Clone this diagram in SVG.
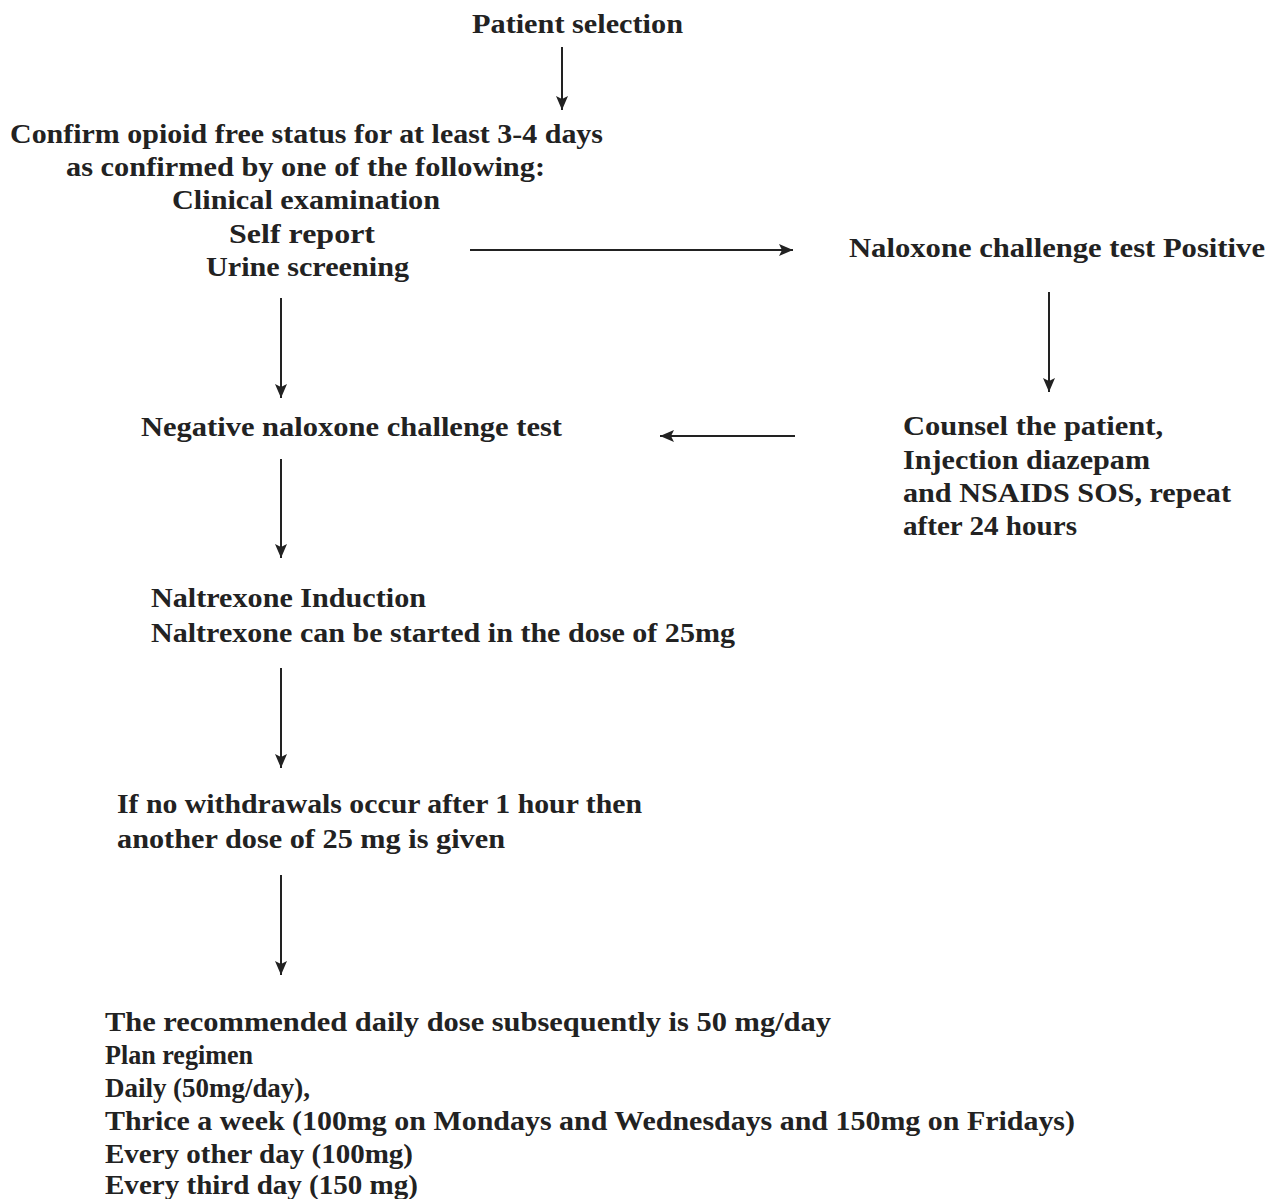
<svg xmlns="http://www.w3.org/2000/svg" width="1278" height="1199" viewBox="0 0 1278 1199">
<style>
text{font-family:"Liberation Serif","Times New Roman",serif;font-size:27px;font-weight:bold;fill:#222;}
.c line{stroke:#222;stroke-width:2;fill:none;}
</style>
<defs>
<marker id="ah" viewBox="0 0 14 12" refX="14" refY="6" markerWidth="14" markerHeight="12" markerUnits="userSpaceOnUse" orient="auto">
<path d="M0,0 L14,6 L0,12 L3,6 Z" fill="#222"/>
</marker>
</defs>
<rect width="1278" height="1199" fill="#fff"/>
<g id="n-patient-selection">
<text x="472" y="33" textLength="211" lengthAdjust="spacingAndGlyphs">Patient selection</text>
</g>
<g id="n-confirm">
<text x="10" y="143" textLength="593" lengthAdjust="spacingAndGlyphs">Confirm opioid free status for at least 3-4 days</text>
<text x="66" y="176" textLength="479" lengthAdjust="spacingAndGlyphs">as confirmed by one of the following:</text>
<text x="172" y="209" textLength="268" lengthAdjust="spacingAndGlyphs">Clinical examination</text>
<text x="229" y="243" textLength="146" lengthAdjust="spacingAndGlyphs">Self report</text>
<text x="206" y="276" textLength="203" lengthAdjust="spacingAndGlyphs">Urine screening</text>
</g>
<g id="n-positive">
<text x="849" y="257" textLength="416" lengthAdjust="spacingAndGlyphs">Naloxone challenge test Positive</text>
</g>
<g id="n-negative">
<text x="141" y="436" textLength="421" lengthAdjust="spacingAndGlyphs">Negative naloxone challenge test</text>
</g>
<g id="n-counsel">
<text x="903" y="435" textLength="260" lengthAdjust="spacingAndGlyphs">Counsel the patient,</text>
<text x="903" y="469" textLength="247" lengthAdjust="spacingAndGlyphs">Injection diazepam</text>
<text x="903" y="502" textLength="328" lengthAdjust="spacingAndGlyphs">and NSAIDS SOS, repeat</text>
<text x="903" y="535" textLength="174" lengthAdjust="spacingAndGlyphs">after 24 hours</text>
</g>
<g id="n-induction">
<text x="151" y="607" textLength="275" lengthAdjust="spacingAndGlyphs">Naltrexone Induction</text>
<text x="151" y="642" textLength="584" lengthAdjust="spacingAndGlyphs">Naltrexone can be started in the dose of 25mg</text>
</g>
<g id="n-withdrawal">
<text x="117" y="813" textLength="525" lengthAdjust="spacingAndGlyphs">If no withdrawals occur after 1 hour then</text>
<text x="117" y="848" textLength="388" lengthAdjust="spacingAndGlyphs">another dose of 25 mg is given</text>
</g>
<g id="n-regimen">
<text x="105" y="1031" textLength="726" lengthAdjust="spacingAndGlyphs">The recommended daily dose subsequently is 50 mg/day</text>
<text x="105" y="1064" textLength="148" lengthAdjust="spacingAndGlyphs">Plan regimen</text>
<text x="105" y="1097" textLength="205" lengthAdjust="spacingAndGlyphs">Daily (50mg/day),</text>
<text x="105" y="1130" textLength="970" lengthAdjust="spacingAndGlyphs">Thrice a week (100mg on Mondays and Wednesdays and 150mg on Fridays)</text>
<text x="105" y="1163" textLength="308" lengthAdjust="spacingAndGlyphs">Every other day (100mg)</text>
<text x="105" y="1194" textLength="313" lengthAdjust="spacingAndGlyphs">Every third day (150 mg)</text>
</g>
<g id="connectors" class="c">
<line x1="562" y1="47" x2="562" y2="110" marker-end="url(#ah)"/>
<line x1="470" y1="250" x2="793" y2="250" marker-end="url(#ah)"/>
<line x1="1049" y1="292" x2="1049" y2="392" marker-end="url(#ah)"/>
<line x1="281" y1="298" x2="281" y2="398" marker-end="url(#ah)"/>
<line x1="795" y1="436" x2="660" y2="436" marker-end="url(#ah)"/>
<line x1="281" y1="459" x2="281" y2="558" marker-end="url(#ah)"/>
<line x1="281" y1="668" x2="281" y2="768" marker-end="url(#ah)"/>
<line x1="281" y1="875" x2="281" y2="975" marker-end="url(#ah)"/>
</g>
</svg>
